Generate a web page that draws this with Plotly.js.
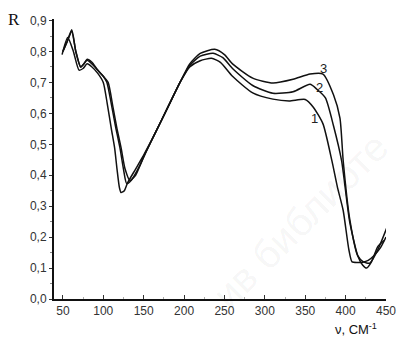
<!DOCTYPE html>
<html><head><meta charset="utf-8">
<script src="https://cdn.plot.ly/plotly-3.0.1.min.js"></script>
<style>html,body{margin:0;padding:0;background:#fff}#chart{width:400px;height:346px}</style>
</head><body><div id="chart"></div>
<script>
// wavenumber (cm^-1) and reflectance R for the three curves
const nu1 = [49, 56, 63, 70, 75, 80, 86, 93, 100, 105, 110, 114, 117, 120, 122, 126, 130, 140, 151, 165, 180, 195, 207, 220, 234, 245, 260, 285, 310, 330, 350, 360, 372, 383, 390, 397, 404, 408, 415, 421, 428, 435, 443, 450];
const R1  = [0.79, 0.845, 0.80, 0.74, 0.745, 0.76, 0.75, 0.73, 0.70, 0.63, 0.55, 0.489, 0.42, 0.36, 0.344, 0.35, 0.375, 0.42, 0.47, 0.54, 0.62, 0.70, 0.75, 0.77, 0.778, 0.765, 0.72, 0.666, 0.646, 0.64, 0.645, 0.62, 0.566, 0.447, 0.36, 0.286, 0.16, 0.12, 0.118, 0.119, 0.125, 0.14, 0.165, 0.20];
const nu2 = [50, 55, 61, 66, 72, 76, 80, 86, 93, 100, 104.5, 110, 115, 120.6, 125, 129, 135, 145, 152, 165, 180, 195, 207, 220, 236, 248, 260, 285, 310, 335, 356, 364.5, 375, 385, 395, 405, 415, 421, 426, 432, 440, 448];
const R2  = [0.80, 0.83, 0.87, 0.80, 0.75, 0.76, 0.775, 0.765, 0.74, 0.72, 0.70, 0.63, 0.56, 0.489, 0.42, 0.373, 0.385, 0.43, 0.47, 0.54, 0.62, 0.70, 0.755, 0.785, 0.794, 0.78, 0.745, 0.69, 0.665, 0.67, 0.694, 0.678, 0.65, 0.56, 0.447, 0.25, 0.14, 0.11, 0.10, 0.12, 0.17, 0.19];
const nu3 = [50, 55, 61, 66, 72, 76, 80, 86, 93, 100, 106, 112, 117, 122, 127, 133, 140, 150, 165, 180, 195, 207, 220, 238, 250, 260, 285, 310, 335, 356, 372, 385, 393, 397, 405, 415, 422, 430, 440, 451];
const R3  = [0.80, 0.83, 0.865, 0.80, 0.75, 0.76, 0.772, 0.76, 0.74, 0.72, 0.70, 0.62, 0.55, 0.489, 0.42, 0.383, 0.40, 0.46, 0.54, 0.62, 0.70, 0.76, 0.794, 0.807, 0.79, 0.76, 0.714, 0.698, 0.71, 0.727, 0.727, 0.66, 0.585, 0.447, 0.26, 0.14, 0.12, 0.116, 0.16, 0.23];
const curveLabels = ["1", "2", "3"];
const labelPos = [[362, 0.585], [368, 0.685], [373, 0.745]];

const line = {color: '#111', width: 1.5, shape: 'spline', smoothing: 0.6};
const traces = [[nu1, R1], [nu2, R2], [nu3, R3]].map(([x, y]) => ({
  x: x, y: y, type: 'scatter', mode: 'lines', line: line, hoverinfo: 'skip', showlegend: false
}));

const ann = curveLabels.map((t, i) => ({
  x: labelPos[i][0], y: labelPos[i][1], xref: 'x', yref: 'y', text: t, showarrow: false,
  font: {family: 'Liberation Sans, Arial', size: 13, color: '#222'}
}));
ann.push({xref: 'paper', yref: 'paper', x: -0.12, y: 1.0, xanchor: 'center', yanchor: 'middle',
  text: 'R', showarrow: false, font: {family: 'Liberation Serif, Times New Roman', size: 17, color: '#111'}});
ann.push({xref: 'paper', yref: 'paper', x: 0.91, y: -0.07, xanchor: 'center', yanchor: 'top',
  text: 'ν, СМ<sup>-1</sup>', showarrow: false, font: {family: 'Liberation Sans, Arial', size: 13, color: '#111'}});
ann.push({xref: 'paper', yref: 'paper', x: 0.74, y: 0.28, xanchor: 'center', yanchor: 'middle',
  text: 'ив библиоте', textangle: -45, showarrow: false, font: {family: 'Liberation Sans, Arial', size: 40, color: 'rgba(0,0,0,0.05)'}});

const layout = {
  width: 400, height: 346,
  margin: {l: 54, r: 14, t: 19, b: 47},
  paper_bgcolor: '#fff', plot_bgcolor: '#fff',
  separators: ', ',
  showlegend: false,
  xaxis: {
    range: [39, 450], tickvals: [50, 100, 150, 200, 250, 300, 350, 400, 450],
    ticks: 'inside', ticklen: 4, tickwidth: 1, tickcolor: '#333',
    minor: {tickvals: [75, 125, 175, 225, 275, 325, 375, 425], ticks: 'inside', ticklen: 2, tickcolor: '#aaa'},
    showgrid: false, zeroline: false, showline: true, linecolor: '#111', linewidth: 2,
    tickfont: {family: 'Liberation Sans, Arial', size: 12, color: '#333'}
  },
  yaxis: {
    range: [0, 0.905], tickvals: [0, 0.1, 0.2, 0.3, 0.4, 0.5, 0.6, 0.7, 0.8, 0.9], tickformat: '.1f',
    ticks: 'outside', ticklen: 3, tickwidth: 1, tickcolor: '#333',
    minor: {tickvals: [0.05, 0.15, 0.25, 0.35, 0.45, 0.55, 0.65, 0.75, 0.85], ticks: 'outside', ticklen: 2, tickcolor: '#888'},
    showgrid: false, zeroline: false, showline: true, linecolor: '#111', linewidth: 2,
    tickfont: {family: 'Liberation Sans, Arial', size: 12, color: '#333'}
  },
  annotations: ann
};
Plotly.newPlot('chart', traces, layout, {staticPlot: true, displayModeBar: false});
</script></body></html>
